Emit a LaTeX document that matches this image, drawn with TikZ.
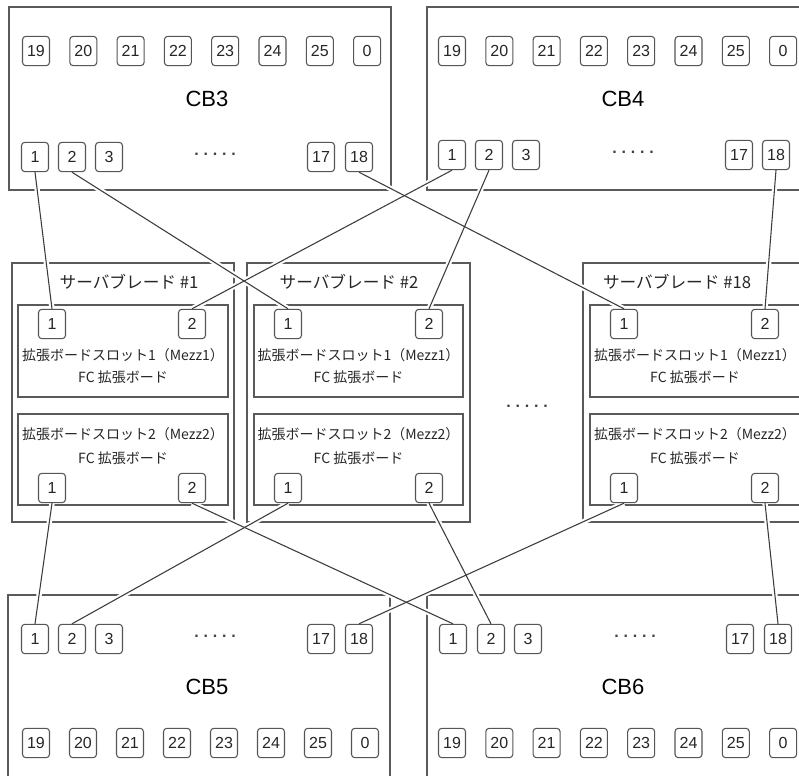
\documentclass[tikz,border=0pt]{standalone}
\usepackage{fontspec}
\setmainfont{Liberation Sans}
\newfontfamily\jp{Noto Sans CJK JP}
\pgfdeclarelayer{boxes}
\pgfdeclarelayer{halo}
\pgfdeclarelayer{wires}
\pgfsetlayers{boxes,halo,wires,main}
\definecolor{boxc}{HTML}{5A5A5A}
\definecolor{wirec}{HTML}{3C3C3C}
\definecolor{portc}{HTML}{555555}
\newcommand\fivedots{.\kern3.6pt.\kern3.6pt.\kern3.6pt.\kern3.6pt.}
\tikzset{
  port/.style={draw=portc, line width=0.8pt, rounded corners=2.5pt, fill=white,
    minimum width=20.25pt, minimum height=22pt, inner sep=0pt,
    font=\fontsize{12}{13}\selectfont, text=black!85},
  frame/.style={draw=boxc, line width=1.1pt},
  wire/.style={draw=wirec, line width=0.8pt},
  halo/.style={draw=white, line width=4pt},
  cblabel/.style={font=\fontsize{16.5}{18}\selectfont},
  bladetitle/.style={font=\jp\fontsize{12.5}{14}\selectfont, text=black!85},
  mezztext/.style={font=\jp\fontsize{10.5}{12}\selectfont, text=black!85},
  dotsnode/.style={font=\bfseries\fontsize{12}{13}\selectfont, text=black!75}
}
\begin{document}
\begin{tikzpicture}[x=0.75pt,y=-0.75pt]
\path[use as bounding box] (0,0) rectangle (799,775);

% ---------- frames ----------
\begin{pgfonlayer}{boxes}
  \draw[frame] (9,7) rectangle (391,190);
  \draw[frame] (427,7) rectangle (812,190);
  \draw[frame] (8,595) rectangle (390,790);
  \draw[frame] (427,595) rectangle (812,790);
  % blades
  \draw[frame] (12,263) rectangle (234,522);
  \draw[frame] (247,263) rectangle (470,522);
  \draw[frame] (583,263) rectangle (812,522);
  % mezz boxes
  \draw[frame] (18,305) rectangle (228,397);
  \draw[frame] (18,414) rectangle (228,505);
  \draw[frame] (254,305) rectangle (463,397);
  \draw[frame] (254,414) rectangle (463,505);
  \draw[frame] (590,305) rectangle (806,397);
  \draw[frame] (590,414) rectangle (806,505);
\end{pgfonlayer}

% ---------- CB labels and dots ----------
\node[cblabel] (lcb3) at (207,99) {CB3};
\node[cblabel] (lcb4) at (623,99) {CB4};
\node[cblabel] (lcb5) at (207,687) {CB5};
\node[cblabel] (lcb6) at (623,687) {CB6};
\node[dotsnode] (d3) at (215,154) {\fivedots};
\node[dotsnode] (d4) at (633,152) {\fivedots};
\node[dotsnode] (d5) at (215,636) {\fivedots};
\node[dotsnode] (d6) at (635,636) {\fivedots};
\node[dotsnode] (dbl) at (527,406) {\fivedots};

% ---------- CB ports ----------
\foreach \lab [count=\i from 0] in {19,20,21,22,23,24,25,0} {
  \node[port] (c3t\lab) at ({36+47.3*\i},51) {\lab};
  \node[port] (c4t\lab) at ({452+47.3*\i},51) {\lab};
  \node[port] (c5b\lab) at ({36+47*\i},743) {\lab};
  \node[port] (c6b\lab) at ({452+47.3*\i},743) {\lab};
}
\foreach \lab/\x in {1/35,2/72,3/109,17/321,18/359} {
  \node[port] (c3b\lab) at (\x,157) {\lab};
  \node[port] (c5t\lab) at (\x,639) {\lab};
}
\foreach \lab/\x in {1/452,2/489,3/526,17/739,18/776} {
  \node[port] (c4b\lab) at (\x,155) {\lab};
}
\foreach \lab/\x in {1/453,2/491,3/528,17/740,18/778} {
  \node[port] (c6t\lab) at (\x,639) {\lab};
}

% ---------- blades ----------
\foreach \n/\tx/\mx/\pa/\pb in {1/129/123/52/192, 2/349/358.5/288/429, 18/677/695/624/765} {
  \node[bladetitle] (bt\n) at (\tx,282) {サーバブレード \#\n};
  \node[port] (b\n a1) at (\pa,324) {1};
  \node[port] (b\n a2) at (\pb,324) {2};
  \node[mezztext] (m\n a) at (\mx,355) {拡張ボードスロット1（Mezz1）};
  \node[mezztext] (f\n a) at (\mx,377) {FC 拡張ボード};
  \node[mezztext] (m\n b) at (\mx,434) {拡張ボードスロット2（Mezz2）};
  \node[mezztext] (f\n b) at (\mx,458) {FC 拡張ボード};
  \node[port] (b\n b1) at (\pa,488) {1};
  \node[port] (b\n b2) at (\pb,488) {2};
}

% ---------- connectors ----------
\foreach \s/\t in {c3b1/b1a1, c3b2/b2a1, c3b18/b18a1, c4b1/b1a2, c4b2/b2a2, c4b18/b18a2,
                   b1b1/c5t1, b1b2/c6t1, b2b1/c5t2, b2b2/c6t2, b18b1/c5t18, b18b2/c6t18} {
  \begin{pgfonlayer}{halo}
    \draw[halo] (\s.south) -- (\t.north);
  \end{pgfonlayer}
  \begin{pgfonlayer}{wires}
    \draw[wire] (\s.south) -- (\t.north);
  \end{pgfonlayer}
}
\end{tikzpicture}
\end{document}
